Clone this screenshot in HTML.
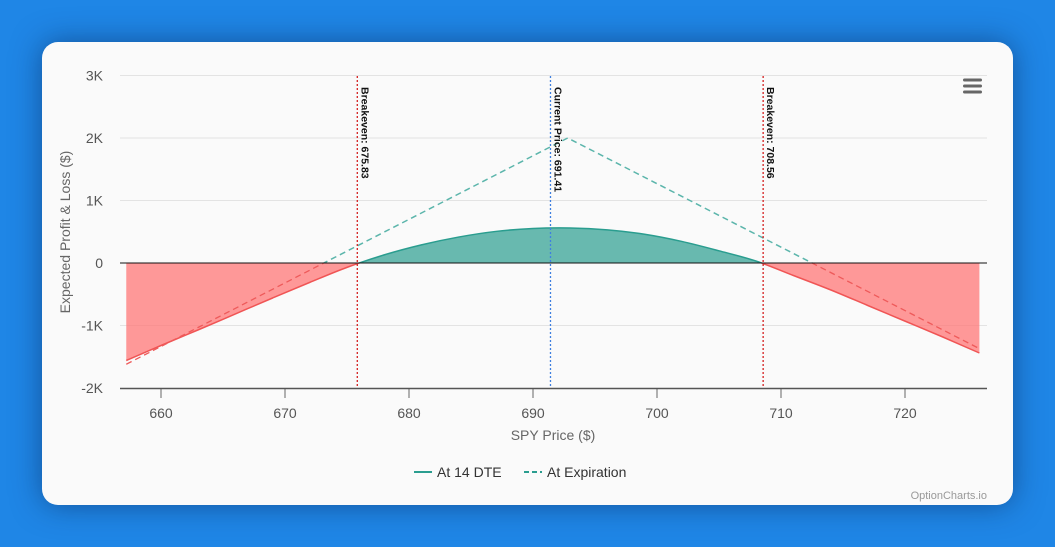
<!DOCTYPE html>
<html><head><meta charset="utf-8"><style>
body{margin:0;width:1055px;height:547px;background:#1f86e6;font-family:"Liberation Sans",sans-serif;overflow:hidden}
#card{position:absolute;left:42px;top:42px;width:971px;height:463px;background:#fafafa;border-radius:16px;overflow:hidden;box-shadow:0 0 30px rgba(10,40,90,0.55)}
svg text{font-family:"Liberation Sans",sans-serif}
</style></head><body>
<div id="card"></div>
<svg id="chart" width="1055" height="547" style="position:absolute;left:0;top:0"></svg>
<script>
const prices=[657.2,660,663,666,669,672,675,678,681,684,687,690,693,696,699,702,705,708,711,714,717,720,723,726];
const dteValues=[-1560,-1320,-1070,-815,-560,-310,-70,130,290,415,505,552,560,530,460,345,195,30,-200,-430,-680,-930,-1180,-1440];
const expPrices=[657.2,692.8,726];
const expValues=[-1620,2000,-1370];
const yTicks=[3000,2000,1000,0,-1000,-2000];
const yTickLabels=["3K","2K","1K","0","-1K","-2K"];
const xTicks=[660,670,680,690,700,710,720];
const breakevens=[675.83,708.56];
const currentPrice=691.41;

const NS="http://www.w3.org/2000/svg";
const svg=document.getElementById('chart');
const X=v=>161+(v-660)*12.4;
const Y=v=>263-v*0.0625;
const L=120,R=987;
function el(t,a,p){const e=document.createElementNS(NS,t);for(const k in a)e.setAttribute(k,a[k]);(p||svg).appendChild(e);return e;}

yTicks.forEach((t,i)=>{
  if(t!==0&&t!==-2000){const g=el('line',{x1:L,x2:R,y1:Y(t),y2:Y(t),stroke:'#e3e3e3','stroke-width':1});
  
  }
  const tx=el('text',{x:103,y:Y(t)+5,'text-anchor':'end','font-size':14,fill:'#555'});tx.textContent=yTickLabels[i];
  
  
});
xTicks.forEach(t=>{
  el('line',{x1:X(t),x2:X(t),y1:388,y2:398,stroke:'#666'});
  const tx=el('text',{x:X(t),y:418,'text-anchor':'middle','font-size':14,fill:'#555'});tx.textContent=t;
  
  
});

const defs=el('defs',{});
const cpA=el('clipPath',{id:'above'},defs);el('rect',{x:0,y:0,width:1055,height:Y(0)},cpA);
const cpB=el('clipPath',{id:'below'},defs);el('rect',{x:0,y:Y(0),width:1055,height:300},cpB);

const dPts=prices.map((p,i)=>[X(p),Y(dteValues[i])]);
function smooth(pts){let d='M'+pts[0][0]+','+pts[0][1];for(let i=0;i<pts.length-1;i++){const p0=pts[i-1]||pts[i],p1=pts[i],p2=pts[i+1],p3=pts[i+2]||p2;
 d+=' C'+(p1[0]+(p2[0]-p0[0])/6)+','+(p1[1]+(p2[1]-p0[1])/6)+' '+(p2[0]-(p3[0]-p1[0])/6)+','+(p2[1]-(p3[1]-p1[1])/6)+' '+p2[0]+','+p2[1];}return d;}
const line=smooth(dPts);
const area=line+' L'+dPts[dPts.length-1][0]+','+Y(0)+' L'+dPts[0][0]+','+Y(0)+'Z';
const fa=el('path',{d:area,fill:'#2a9d8f','fill-opacity':0.7,'clip-path':'url(#above)'});


const fb=el('path',{d:area,fill:'#f77','fill-opacity':0.75,'clip-path':'url(#below)'});


const la=el('path',{d:line,fill:'none',stroke:'#2a9d8f','stroke-width':1.5,'clip-path':'url(#above)'});


const lb=el('path',{d:line,fill:'none',stroke:'#f05555','stroke-width':1.5,'clip-path':'url(#below)'});



const ed='M'+expPrices.map((p,i)=>X(p)+','+Y(expValues[i])).join(' L');
const ea=el('path',{d:ed,fill:'none',stroke:'#5bb5ab','stroke-width':1.5,'stroke-dasharray':'6,4','clip-path':'url(#above)'});


const eb=el('path',{d:ed,fill:'none',stroke:'#ee5a5a','stroke-width':1.3,'stroke-dasharray':'6,4','clip-path':'url(#below)'});



el('line',{x1:L,x2:R,y1:Y(0),y2:Y(0),stroke:'#111','stroke-width':1});
el('line',{x1:L,x2:R,y1:388.5,y2:388.5,stroke:'#555','stroke-width':1.5});

function vline(v,color,label,name){
  const ln=el('line',{x1:X(v),x2:X(v),y1:76,y2:388,stroke:color,'stroke-width':1.3,'stroke-dasharray':'2,2'});
  
  
  const t=el('text',{transform:'translate('+(X(v)+4)+',87) rotate(90)','font-size':10.5,'font-weight':'bold',fill:'#111'});t.textContent=label;
  
  
}
breakevens.forEach(b=>vline(b,'#d42020','Breakeven: '+b.toFixed(2),'breakeven-line'));
vline(currentPrice,'#3f7fe0','Current Price: '+currentPrice.toFixed(2),'current-price-line');

let t=el('text',{x:553,y:440,'text-anchor':'middle','font-size':14,fill:'#666'});t.textContent='SPY Price ($)';

t=el('text',{transform:'translate(70,232) rotate(-90)','text-anchor':'middle','font-size':14,fill:'#666'});t.textContent='Expected Profit & Loss ($)';


const lg1=el('g',{});
el('line',{x1:414,x2:432,y1:472,y2:472,stroke:'#2a9d8f','stroke-width':2},lg1);
t=el('text',{x:437,y:477,'font-size':14,fill:'#333'},lg1);t.textContent='At 14 DTE';
const lg2=el('g',{});
el('line',{x1:524,x2:542,y1:472,y2:472,stroke:'#2a9d8f','stroke-width':2,'stroke-dasharray':'5,3'},lg2);
t=el('text',{x:547,y:477,'font-size':14,fill:'#333'},lg2);t.textContent='At Expiration';

t=el('text',{x:987,y:499,'text-anchor':'end','font-size':11,fill:'#999'});t.textContent='OptionCharts.io';


const menu=el('g',{});
[80,86,92].forEach(y=>el('rect',{x:963,y:y-1.5,width:19,height:3,rx:1.5,fill:'#666'},menu));
</script>
</body></html>
